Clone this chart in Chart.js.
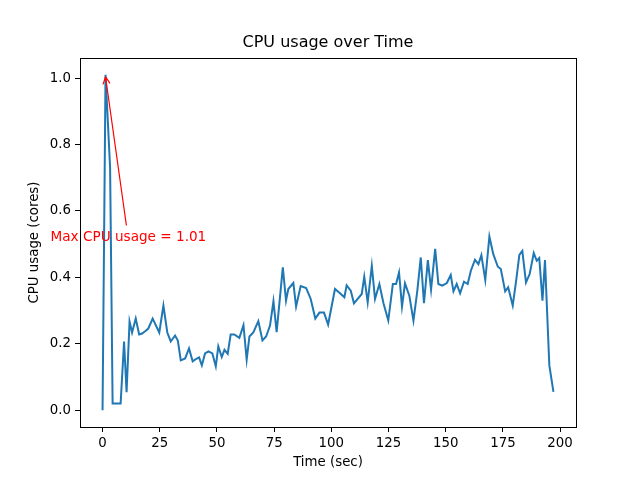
<!DOCTYPE html>
<html>
<head>
<meta charset="utf-8">
<script src="https://cdn.jsdelivr.net/npm/chart.js@4/dist/chart.umd.min.js"></script>
<style>
  html, body { margin: 0; padding: 0; background: #fff; }
  #wrap { width: 640px; height: 480px; }
</style>
</head>
<body>
<div id="wrap"><canvas id="cpu-chart" width="640" height="480"></canvas></div>
<script>
// sample times (sec) and cpu usage (cores)
var times = [0, 1.3, 3.3, 4.4, 7.9, 9.4, 10.5, 11.8, 12.9, 14.5, 16.0, 17.3, 18.6, 20.0, 21.9,
  24.8, 26.6, 28.3, 29.8, 31.7, 32.9, 34.2, 36.1, 37.8, 39.4, 41.0, 42.2, 43.4, 44.8, 46.3,
  48.0, 49.5, 50.6, 52.1, 53.3, 54.7, 56.0, 57.6, 59.8, 61.6, 63.0, 64.2, 65.9, 68.1, 69.9,
  71.5, 73.2, 74.7, 76.1, 78.8, 80.2, 81.2, 83.4, 84.6, 86.6, 89.0, 91.0, 93.0, 94.8, 96.8,
  98.6, 101.6, 103.8, 105.7, 106.7, 108.5, 109.9, 113.3, 114.4, 115.9, 117.7, 119.1, 121.0, 122.8, 124.9,
  126.9, 128.3, 129.6, 130.9, 132.2, 134.1, 135.9, 137.6, 139.1, 140.5, 142.2, 143.6, 145.4, 146.8, 148.5,
  150.5, 152.2, 153.4, 154.8, 156.3, 158.0, 159.6, 161.0, 162.8, 164.3, 165.6, 167.3, 169.1, 170.8, 172.8,
  174.1, 176.0, 177.3, 179.3, 180.8, 182.2, 183.5, 185.1, 186.7, 188.5, 189.8, 190.9, 192.3, 193.4, 195.3, 197.1];
var cpu = [0.0, 1.01, 0.73, 0.02, 0.02, 0.207, 0.054, 0.267, 0.234, 0.276, 0.228, 0.231, 0.238, 0.246, 0.276,
  0.234, 0.315, 0.234, 0.207, 0.225, 0.21, 0.15, 0.156, 0.186, 0.147, 0.155, 0.159, 0.135, 0.171, 0.177,
  0.171, 0.132, 0.192, 0.16, 0.182, 0.17, 0.228, 0.228, 0.218, 0.256, 0.152, 0.222, 0.234, 0.268, 0.21,
  0.222, 0.255, 0.328, 0.235, 0.43, 0.33, 0.365, 0.383, 0.312, 0.374, 0.368, 0.335, 0.276, 0.294, 0.294,
  0.258, 0.365, 0.352, 0.34, 0.376, 0.36, 0.322, 0.35, 0.402, 0.325, 0.435, 0.335, 0.38, 0.322, 0.27,
  0.38, 0.38, 0.415, 0.312, 0.382, 0.345, 0.27, 0.36, 0.46, 0.322, 0.452, 0.363, 0.486, 0.38, 0.375,
  0.383, 0.407, 0.358, 0.38, 0.352, 0.387, 0.38, 0.42, 0.453, 0.44, 0.467, 0.392, 0.523, 0.47, 0.432,
  0.425, 0.358, 0.37, 0.315, 0.39, 0.468, 0.48, 0.385, 0.41, 0.473, 0.45, 0.458, 0.33, 0.452, 0.135, 0.055];

var xTicks = [0, 25, 50, 75, 100, 125, 150, 175, 200];
var yTicks = [0.0, 0.2, 0.4, 0.6, 0.8, 1.0];

var points = times.map(function(t, i){ return {x: t, y: cpu[i]}; });

// find the max for the annotation
var maxIdx = 0;
cpu.forEach(function(v, i){ if (v > cpu[maxIdx]) maxIdx = i; });

var FONT = "'DejaVu Sans', sans-serif";

// box around the plot, title over the plot area, red annotation
var framePlugin = {
  id: "frame",
  afterDraw: function(chart) {
    var c = chart.ctx, a = chart.chartArea;
    var xs = chart.scales.x, ys = chart.scales.y;
    c.save();
    c.strokeStyle = "#000";
    c.lineWidth = 1;
    c.strokeRect(Math.round(a.left) + 0.5, Math.round(a.top) + 0.5,
                 Math.round(a.right - a.left), Math.round(a.bottom - a.top));

    c.fillStyle = "#000";
    c.font = "16px " + FONT;
    c.textAlign = "center";
    c.textBaseline = "middle";
    c.fillText("CPU usage over Time", (a.left + a.right) / 2, a.top - 15);

    var px = xs.getPixelForValue(times[maxIdx]);
    var py = ys.getPixelForValue(cpu[maxIdx]);
    var tx = xs.getPixelForValue(times[maxIdx] + 10);
    var ty = ys.getPixelForValue(0.52);
    c.fillStyle = "red";
    c.font = "13.6px " + FONT;
    c.fillText("Max CPU usage = " + cpu[maxIdx].toFixed(2), tx, ty);

    var sx = tx - 2, sy = ty - 12;
    c.strokeStyle = "red";
    c.lineWidth = 1.2;
    c.beginPath();
    c.moveTo(sx, sy);
    c.lineTo(px, py + 2);
    var ang = Math.atan2(py + 2 - sy, px - sx);
    var hl = 8;
    c.moveTo(px, py + 2);
    c.lineTo(px - hl * Math.cos(ang - 0.45), py + 2 - hl * Math.sin(ang - 0.45));
    c.moveTo(px, py + 2);
    c.lineTo(px - hl * Math.cos(ang + 0.45), py + 2 - hl * Math.sin(ang + 0.45));
    c.stroke();
    c.restore();
  }
};

var chart = new Chart(document.getElementById("cpu-chart"), {
  type: "line",
  data: {
    datasets: [{
      label: "CPU usage",
      data: points,
      borderColor: "#1f77b4",
      borderWidth: 2,
      pointRadius: 0,
      tension: 0,
      fill: false
    }]
  },
  options: {
    responsive: false,
    animation: false,
    layout: { padding: { left: 0, right: 64, top: 58, bottom: 0 } },
    plugins: {
      legend: { display: false },
      tooltip: { enabled: false },
      title: { display: false }
    },
    scales: {
      x: {
        type: "linear",
        min: -9.86,
        max: 206.96,
        afterBuildTicks: function(s){ s.ticks = xTicks.map(function(v){ return {value: v}; }); },
        afterFit: function(s){ s.height = 53; },
        grid: { display: true, drawOnChartArea: false, drawTicks: true, tickLength: 5, color: "#000" },
        border: { display: false },
        ticks: {
          color: "#000", padding: 4, maxRotation: 0,
          font: { family: FONT, size: 13.33 },
          callback: function(v){ return String(v); }
        },
        title: {
          display: true, text: "Time (sec)", color: "#000",
          font: { family: FONT, size: 13.33 },
          padding: { top: 0, bottom: 9 }
        }
      },
      y: {
        type: "linear",
        min: -0.0505,
        max: 1.0605,
        afterBuildTicks: function(s){ s.ticks = yTicks.map(function(v){ return {value: v}; }); },
        afterFit: function(s){ s.width = 80; },
        grid: { display: true, drawOnChartArea: false, drawTicks: true, tickLength: 5, color: "#000" },
        border: { display: false },
        ticks: {
          color: "#000", padding: 4,
          font: { family: FONT, size: 13.33 },
          callback: function(v){ return Math.abs(v) < 1e-9 ? "0.0" : Number(v).toFixed(1); }
        },
        title: {
          display: true, text: "CPU usage (cores)", color: "#000",
          font: { family: FONT, size: 13.33 },
          padding: { top: 27, bottom: 0 }
        }
      }
    }
  },
  plugins: [framePlugin]
});
</script>
</body>
</html>
